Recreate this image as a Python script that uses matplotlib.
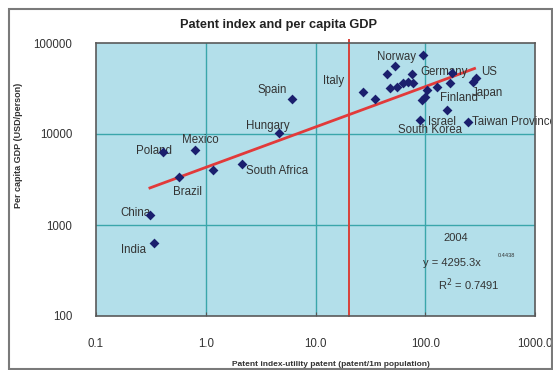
import matplotlib
matplotlib.use("Agg")
import matplotlib.pyplot as plt
from matplotlib import font_manager
from matplotlib.patches import Rectangle
import numpy as np

# ---- data -------------------------------------------------------------
patent_index = [96, 53, 44.6, 75.3, 27.3, 34.8, 47.7, 55, 63, 70, 77.8,
                103, 129, 168, 174, 274, 290, 93, 99.6, 157, 89.5, 247,
                6.07, 4.64, 2.13, 1.17, 0.80, 0.41, 0.57, 0.31, 0.337]
gdp_per_capita = [73000, 56100, 45500, 45500, 29300, 24400, 31900, 33200,
                  36200, 37700, 36200, 30600, 33200, 36200, 46700, 37700,
                  41100, 23800, 25800, 18500, 14300, 13700,
                  24200, 10240, 4700, 4050, 6590, 6370, 3390, 1294, 631]
country = ["Norway", "", "", "", "Italy", "", "", "", "", "", "",
           "", "", "", "Germany", "Japan", "US", "", "", "Finland", "Israel",
           "Taiwan Province", "Spain", "Hungary", "South Africa", "", "Mexico",
           "Poland", "Brazil", "China", "India"]

fit_a = 4295.3
fit_b = 0.4438
r_squared = 0.7491
year = "2004"
threshold_x = 20.2

x_ticks = [0.1, 1, 10, 100, 1000]
x_tick_labels = ["0.1", "1.0", "10.0", "100.0", "1000.0"]
y_ticks = [100, 1000, 10000, 100000]
y_tick_labels = ["100", "1000", "10000", "100000"]

# ---- fonts ------------------------------------------------------------
available = {f.name for f in font_manager.fontManager.ttflist}
narrow = "Liberation Sans Narrow" if "Liberation Sans Narrow" in available else "Liberation Sans"
plt.rcParams["font.family"] = ["Liberation Sans", "DejaVu Sans"]

text_color = "#333333"

fig = plt.figure(figsize=(5.53, 3.70), dpi=100)
fig.patch.set_facecolor("white")
ax = fig.add_axes([96 / 553, 1 - 316 / 370, 439 / 553, 273 / 370])
ax.set_facecolor("#b3dfea")
ax.set_xscale("log")
ax.set_yscale("log")
ax.set_xlim(0.1, 1000)
ax.set_ylim(100, 100000)

# grid at the decades
for xv in x_ticks[1:-1]:
    ax.axvline(xv, color="#3aa6ab", lw=1.0, zorder=1)
for yv in y_ticks[1:-1]:
    ax.axhline(yv, color="#3aa6ab", lw=1.0, zorder=1)

# vertical threshold line
ax.axvline(threshold_x, ymin=0, ymax=1.012, color="#d9413a", lw=1.4,
           zorder=2, clip_on=False)

# power-law trend line
xf = np.logspace(np.log10(min(patent_index)), np.log10(max(patent_index) * 0.97), 50)
ax.plot(xf, fit_a * xf ** fit_b, color="#e23a3a", lw=2.0, zorder=3)

# points
ax.scatter(patent_index, gdp_per_capita, marker="D", s=25, color="#1b1f6e",
           zorder=5, linewidths=0)

# country labels: offsets in pixels (dx right, dy down) from the point
label_offsets = {
    "Norway": (-27, 2), "Germany": (-8, -1), "US": (13.5, -6),
    "Japan": (13.7, 11), "Finland": (12, -12), "Israel": (22.5, 1.7),
    "Italy": (-30, -11), "Spain": (-20, -8.6), "Hungary": (-11, -6.6),
    "South Africa": (35.6, 6.7), "Mexico": (4.8, -10.7), "Poland": (-9, -1),
    "Brazil": (9, 15.7), "China": (-14, -2), "India": (-20.5, 6.7),
}
px_to_pt = 72 / 100
for xv, yv, name in zip(patent_index, gdp_per_capita, country):
    if not name:
        continue
    if name == "Taiwan Province":
        ax.annotate(name, (xv, yv), xytext=(4 * px_to_pt, 0),
                    textcoords="offset points", ha="left", va="center",
                    fontsize=8.3, color=text_color, zorder=4,
                    annotation_clip=False)
        continue
    dx, dy = label_offsets[name]
    ax.annotate(name, (xv, yv), xytext=(dx * px_to_pt, -dy * px_to_pt),
                textcoords="offset points", ha="center", va="center",
                fontsize=8.3, color=text_color, zorder=4)
    if name == "Israel":
        ax.annotate("South Korea", (xv, yv), xytext=(10.5 * px_to_pt, -10.5 * px_to_pt),
                    textcoords="offset points", ha="center", va="center",
                    fontsize=8.3, color=text_color, zorder=4)

# fit annotation
ax.text(0.819, 0.286, year, transform=ax.transAxes, ha="center", va="center",
        fontsize=8, color=text_color)
ax.text(0.811, 0.195, f"y = {fit_a}x", transform=ax.transAxes, ha="center",
        va="center", fontsize=8, color=text_color)
ax.text(0.936, 0.222, f"{fit_b}", transform=ax.transAxes, ha="center",
        va="center", fontsize=4, color=text_color)
ax.text(0.850, 0.114, f"R$^2$ = {r_squared}", transform=ax.transAxes,
        ha="center", va="center", fontsize=8, color=text_color)

# axes styling
ax.set_xticks(x_ticks)
ax.set_xticklabels(x_tick_labels)
ax.set_yticks(y_ticks)
ax.set_yticklabels(y_tick_labels)
ax.minorticks_off()
ax.tick_params(axis="x", length=3, direction="in", pad=16, labelsize=8.3,
               labelcolor=text_color, color="#555555")
ax.tick_params(axis="y", length=0, pad=17, labelsize=8.3, labelcolor=text_color)
for sp in ax.spines.values():
    sp.set_color("#5a5a5a")
    sp.set_linewidth(1.2)

fig.text(278 / 553, 1 - 25 / 370, "Patent index and per capita GDP",
         ha="center", va="center", fontsize=10.5 if narrow != "Liberation Sans" else 9.2,
         fontweight="bold", family=narrow, color="#222222")
fig.text(331 / 553, 1 - 364 / 370,
         "Patent index-utility patent (patent/1m population)",
         ha="center", va="center", fontsize=6, fontweight="bold", color=text_color)
fig.text(19 / 553, 1 - 145 / 370, "Per capita GDP (USD/person)", rotation=90,
         ha="center", va="center", fontsize=6.5, fontweight="bold", color=text_color)

# outer frame
fig.patches.append(Rectangle((9 / 553, 1 - 369 / 370), 543 / 553, 360 / 370,
                             transform=fig.transFigure, fill=False,
                             edgecolor="#7a7a7a", lw=1.5))

fig.savefig("out.png", dpi=100)
